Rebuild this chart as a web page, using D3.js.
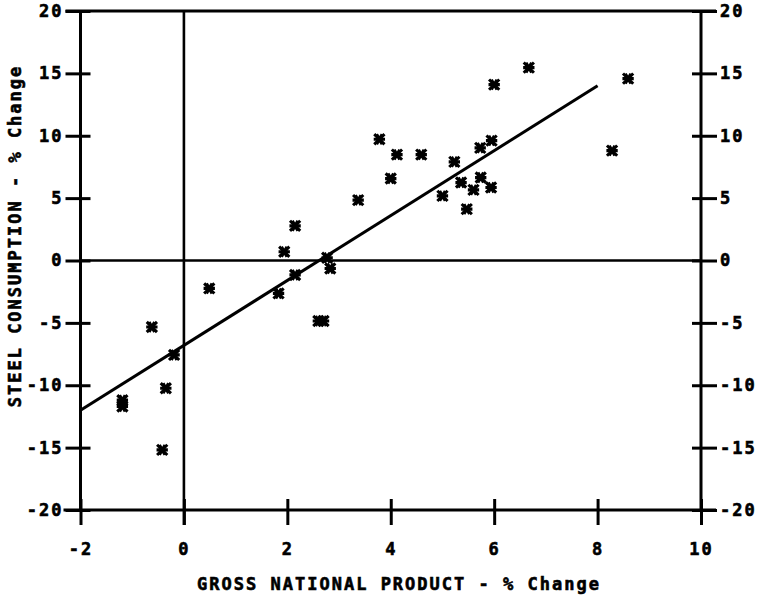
<!DOCTYPE html>
<html lang="en">

<head>
    <meta charset="UTF-8">
    <title>Steel consumption vs GNP</title>
    <script src="https://cdn.jsdelivr.net/npm/d3@7"></script>
    <style>
        body { margin: 0; background: #fff; }
        text { font-family: "DejaVu Sans Mono", monospace; font-weight: bold; font-size: 17px; letter-spacing: 2px; fill: #000; stroke: #000; stroke-width: 0.6px; }
    </style>
</head>

<body>
    <svg id="main" width="762" height="599"></svg>
    <script>
        // % change in GNP (x) and steel consumption (y)
        const gnp = [-1.19, -1.19, -0.62, -0.35, -0.42, -0.19, 0.49, 1.83, 1.94, 2.15, 2.15, 2.6, 2.7, 2.83, 2.77,
            3.37, 3.78, 4.00, 4.12, 4.59, 5.00, 5.23, 5.36, 5.47, 5.60, 5.73, 5.74, 5.95, 5.94, 6.00, 6.67, 8.28, 8.59];
        const steel = [-11.2, -11.7, -5.33, -10.24, -15.18, -7.57, -2.24, -2.64, 0.70, 2.78, -1.16, -4.85, -4.85, -0.64, 0.22,
            4.84, 9.72, 6.57, 8.49, 8.49, 5.18, 7.91, 6.25, 4.12, 5.66, 9.03, 6.65, 9.61, 5.85, 14.10, 15.46, 8.81, 14.58];
        // fitted line end points
        const fitX = [-2, 8];
        const fitY = [-12, 14];

        const xTicks = [-2, 0, 2, 4, 6, 8, 10];
        const yTicks = [-20, -15, -10, -5, 0, 5, 10, 15, 20];
        const xTitle = 'GROSS NATIONAL PRODUCT - % Change';
        const yTitle = 'STEEL CONSUMPTION - % Change';

        const svg = d3.select('#main');
        const x = d3.scaleLinear().domain([-2, 10]).range([80.5, 701]);
        const y = d3.scaleLinear().domain([-20, 20]).range([510, 11]);

        const ink = 'black';
        const fmt = d => String(d); // plain hyphen minus like the plotter

        // left axis: ticks poke out 15px and in 10px
        const gl = svg.append('g')
            .attr('transform', `translate(${x(-2)},0)`)
            .call(d3.axisLeft(y).tickValues(yTicks).tickSizeInner(15).tickSizeOuter(0).tickPadding(2).tickFormat(fmt));
        gl.selectAll('.tick line').attr('x1', 10);

        const gr = svg.append('g')
            .attr('transform', `translate(${x(10)},0)`)
            .call(d3.axisRight(y).tickValues(yTicks).tickSizeInner(16).tickSizeOuter(0).tickPadding(3).tickFormat(fmt));
        gr.selectAll('.tick line').attr('x1', -9);

        const gb = svg.append('g')
            .attr('transform', `translate(0,${y(-20)})`)
            .call(d3.axisBottom(x).tickValues(xTicks).tickSizeInner(15).tickSizeOuter(0).tickPadding(18).tickFormat(fmt));
        gb.selectAll('.tick line').attr('y1', -11);

        svg.selectAll('.domain').remove();
        svg.selectAll('.tick line').attr('stroke', ink).attr('stroke-width', 3);

        // frame and zero lines
        const frame = [
            [x(-2) - 15, y(20), x(10) + 15, y(20)],
            [x(-2) - 17, y(-20), x(10) + 15, y(-20)],
            [x(-2), y(20), x(-2), y(-20)],
            [x(10), y(20), x(10), y(-20)],
            [x(-2), y(0), x(10), y(0)],
            [x(0), y(20), x(0), y(-20) + 15]
        ];
        svg.append('g').selectAll('line')
            .data(frame)
            .join('line')
            .attr('x1', d => d[0]).attr('y1', d => d[1])
            .attr('x2', d => d[2]).attr('y2', d => d[3])
            .attr('stroke', ink)
            .attr('stroke-width', (d, i) => i < 4 ? 3 : 2.6);

        // regression line
        svg.append('line')
            .attr('x1', x(fitX[0])).attr('y1', y(fitY[0]))
            .attr('x2', x(fitX[1])).attr('y2', y(fitY[1]))
            .attr('stroke', ink)
            .attr('stroke-width', 3);

        // star markers
        const star = d3.symbol().type(d3.symbolAsterisk).size(90);
        const starX = d3.symbol().type(d3.symbolX).size(70);
        const pts = svg.append('g').selectAll('g')
            .data(gnp.map((g, i) => [g, steel[i]]))
            .join('g')
            .attr('transform', d => `translate(${x(d[0])},${y(d[1])})`);
        pts.append('path').attr('d', star).attr('transform', 'rotate(90)')
            .attr('fill', 'none').attr('stroke', ink).attr('stroke-width', 3.2);
        pts.append('path').attr('d', starX)
            .attr('fill', 'none').attr('stroke', ink).attr('stroke-width', 3);

        // axis titles
        svg.append('text')
            .attr('x', 399)
            .attr('y', 590)
            .attr('text-anchor', 'middle')
            .text(xTitle);

        svg.append('text')
            .attr('transform', 'translate(21,236) rotate(-90)')
            .attr('text-anchor', 'middle')
            .text(yTitle);
    </script>
</body>

</html>
